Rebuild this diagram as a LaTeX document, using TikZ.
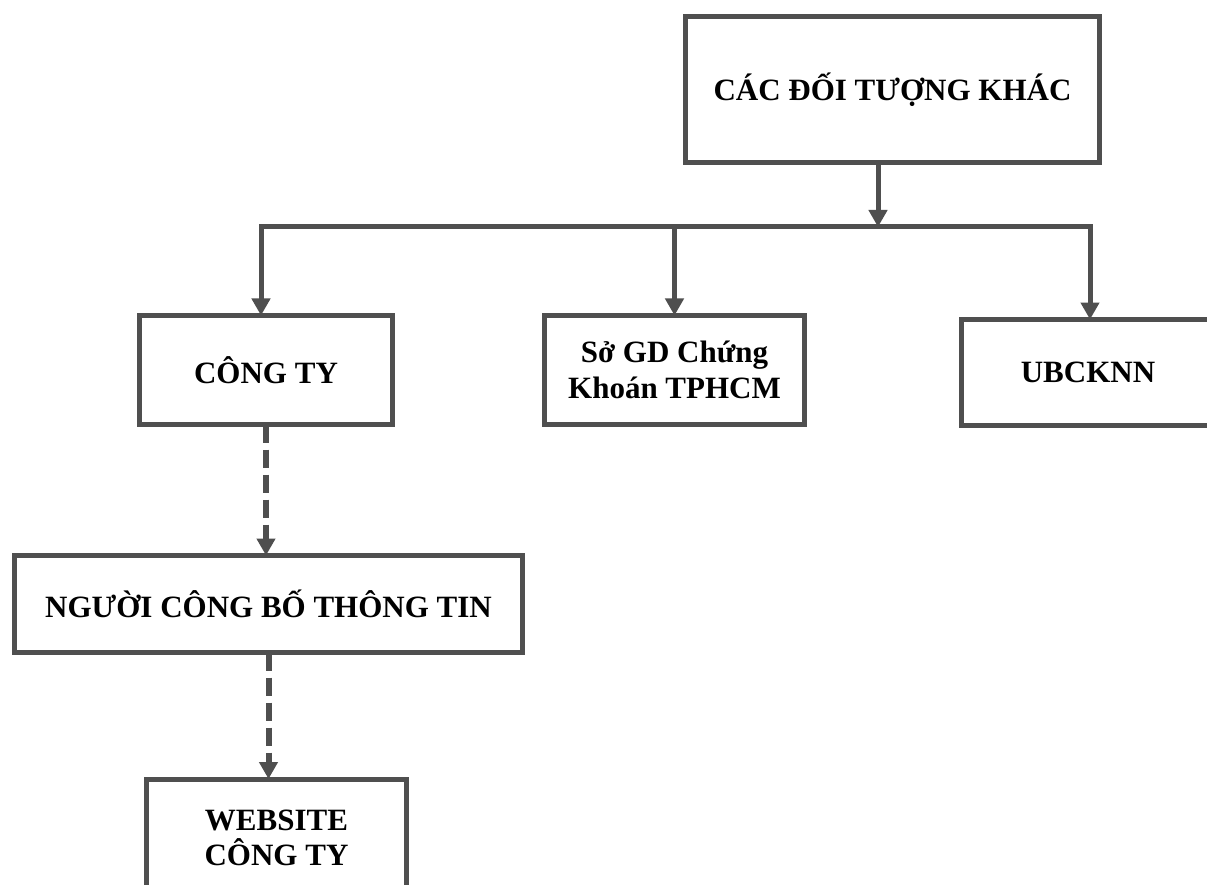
\documentclass[tikz,border=0pt]{standalone}
\usepackage{fontspec}
\setmainfont{Liberation Serif}
\usetikzlibrary{arrows.meta}
\definecolor{edgegray}{HTML}{4F4F4F}
\tikzset{
  box/.style={draw=edgegray, line width=5pt, fill=white, inner sep=0pt, outer sep=0pt,
    font=\fontsize{31}{36}\selectfont\bfseries, align=center, text=black},
  conn/.style={draw=edgegray, line width=5pt},
  arr/.style={conn, -{Triangle[width=18pt,length=17pt]}},
  darr/.style={arr, line width=6pt, dash pattern=on 18pt off 7pt},
}
\begin{document}
\begin{tikzpicture}[x=1pt,y=-1pt]
\fill[white] (0,0) rectangle (1207,885);
\useasboundingbox (0,0) rectangle (1207,885);
\clip (0,0) rectangle (1207,885);

\node[box, minimum width=414pt, minimum height=146pt] (top) at (892.5,89.5) {CÁC ĐỐI TƯỢNG KHÁC};
\node[box, minimum width=253pt, minimum height=109pt] (cty) at (266,370) {CÔNG TY};
\node[box, minimum width=260pt, minimum height=109pt] (sgd) at (674.5,370) {Sở GD Chứng\\Khoán TPHCM};
\node[box, minimum width=253pt, minimum height=106pt] (ub) at (1088,372.5) {UBCKNN};
\node[box, minimum width=508pt, minimum height=97pt] (ng) at (268.5,604) {NGƯỜI CÔNG BỐ THÔNG TIN};
\node[box, font=\fontsize{31}{35}\selectfont\bfseries, minimum width=260pt, minimum height=118pt] (web) at (276.5,838) {WEBSITE\\CÔNG TY};

\coordinate (busT) at (878,227);
\coordinate (busL) at (261,227);
\coordinate (busR) at (1090,227);

\draw[arr] (top.south -| busT) -- (busT);
\draw[conn, line cap=rect] (busL) -- (busR);
\draw[arr] (busL) -- (busL |- cty.north);
\draw[arr] (sgd.north |- busL) -- (sgd.north);
\draw[arr] (busR) -- (busR |- ub.north);
\draw[darr] (cty.south) -- (cty.south |- ng.north);
\draw[darr] (ng.south) -- (ng.south |- web.north);
\end{tikzpicture}
\end{document}
